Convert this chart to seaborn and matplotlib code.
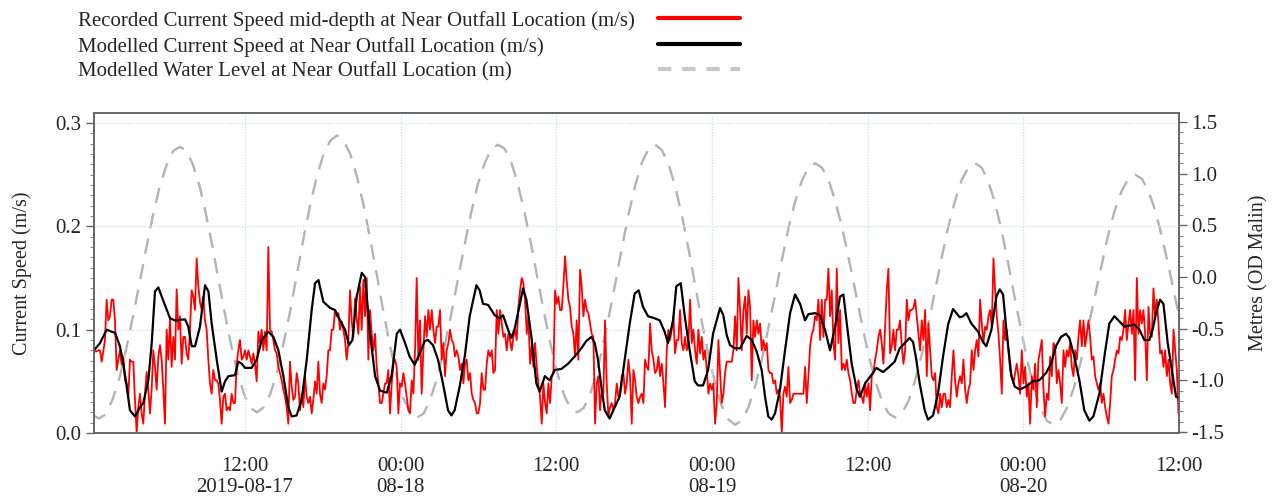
import numpy as np
import pandas as pd
import matplotlib
matplotlib.use("Agg")
import matplotlib.pyplot as plt
import matplotlib.dates as mdates
from matplotlib.ticker import MultipleLocator, FormatStrFormatter
from matplotlib.lines import Line2D
import seaborn as sns

# ---------------- data ----------------
START = pd.Timestamp("2019-08-17 00:00")

# Recorded current speed (m/s), regular samples, one list per half day
red_step_hours = 0.1285
red_segment_start_hours = [0.306, 12.000, 23.951, 35.901, 47.852, 59.802, 71.753]
red_seg1 = [0.080, 0.079, 0.079, 0.080, 0.080, 0.069, 0.079, 0.090, 0.129, 0.109,
            0.113, 0.129, 0.129, 0.109, 0.061, 0.071, 0.080, 0.066, 0.074, 0.051,
            0.048, 0.035, 0.071, 0.069, 0.069, 0.032, 0.000, 0.025, 0.038, 0.019,
            0.009, 0.038, 0.059, 0.042, 0.019, 0.042, 0.080, 0.064, 0.042, 0.074,
            0.085, 0.071, 0.042, 0.009, 0.100, 0.071, 0.111, 0.064, 0.093, 0.071,
            0.139, 0.100, 0.113, 0.067, 0.093, 0.093, 0.077, 0.071, 0.100, 0.138,
            0.132, 0.119, 0.169, 0.142, 0.127, 0.119, 0.132, 0.109, 0.100, 0.071,
            0.048, 0.038, 0.061, 0.051, 0.051, 0.048, 0.032, 0.009, 0.035, 0.038,
            0.022, 0.025, 0.022, 0.038, 0.029, 0.029, 0.067, 0.080, 0.090, 0.071,
            0.074]
red_seg2 = [0.080, 0.071, 0.080, 0.074, 0.067, 0.077, 0.067, 0.050, 0.098, 0.087,
            0.100, 0.080, 0.098, 0.080, 0.180, 0.100, 0.098, 0.090, 0.080, 0.077,
            0.064, 0.058, 0.051, 0.042, 0.035, 0.025, 0.009, 0.069, 0.045, 0.032,
            0.035, 0.058, 0.048, 0.022, 0.038, 0.025, 0.055, 0.035, 0.029, 0.035,
            0.019, 0.032, 0.050, 0.038, 0.069, 0.038, 0.029, 0.048, 0.042, 0.055,
            0.080, 0.080, 0.100, 0.100, 0.119, 0.113, 0.116, 0.100, 0.108, 0.100,
            0.090, 0.071, 0.087, 0.138, 0.109, 0.093, 0.130, 0.111, 0.096, 0.142,
            0.100, 0.148, 0.113, 0.150, 0.071, 0.119, 0.096, 0.080, 0.096, 0.064,
            0.048, 0.029, 0.029, 0.038, 0.048, 0.048, 0.061, 0.019, 0.048, 0.067,
            0.071, 0.064, 0.019]
red_seg3 = [0.048, 0.045, 0.058, 0.048, 0.035, 0.022, 0.019, 0.051, 0.038, 0.080,
            0.150, 0.071, 0.109, 0.038, 0.080, 0.113, 0.093, 0.119, 0.100, 0.119,
            0.100, 0.087, 0.103, 0.103, 0.119, 0.071, 0.087, 0.055, 0.080, 0.087,
            0.100, 0.090, 0.087, 0.074, 0.080, 0.074, 0.061, 0.067, 0.048, 0.067,
            0.071, 0.051, 0.058, 0.038, 0.032, 0.029, 0.019, 0.019, 0.029, 0.058,
            0.042, 0.042, 0.067, 0.080, 0.074, 0.080, 0.058, 0.061, 0.119, 0.096,
            0.119, 0.106, 0.093, 0.096, 0.080, 0.096, 0.090, 0.080, 0.093, 0.100,
            0.090, 0.122, 0.138, 0.150, 0.145, 0.129, 0.096, 0.113, 0.067, 0.084,
            0.064, 0.087, 0.064, 0.048, 0.035, 0.009, 0.048, 0.029, 0.019, 0.048,
            0.029, 0.055, 0.058]
red_seg4 = [0.138, 0.125, 0.132, 0.119, 0.119, 0.142, 0.171, 0.148, 0.129, 0.122,
            0.103, 0.096, 0.074, 0.109, 0.071, 0.158, 0.142, 0.113, 0.129, 0.119,
            0.116, 0.106, 0.096, 0.093, 0.009, 0.048, 0.055, 0.022, 0.042, 0.038,
            0.109, 0.048, 0.016, 0.025, 0.029, 0.022, 0.029, 0.048, 0.035, 0.038,
            0.055, 0.058, 0.038, 0.048, 0.071, 0.055, 0.009, 0.061, 0.051, 0.035,
            0.029, 0.035, 0.038, 0.029, 0.071, 0.064, 0.061, 0.106, 0.080, 0.071,
            0.058, 0.061, 0.074, 0.055, 0.067, 0.048, 0.025, 0.080, 0.100, 0.090,
            0.100, 0.113, 0.077, 0.090, 0.090, 0.119, 0.087, 0.080, 0.093, 0.080,
            0.087, 0.129, 0.087, 0.100, 0.080, 0.067, 0.100, 0.077, 0.093, 0.071,
            0.080, 0.061, 0.038]
red_seg5 = [0.048, 0.042, 0.048, 0.009, 0.029, 0.090, 0.058, 0.029, 0.038, 0.058,
            0.069, 0.069, 0.069, 0.069, 0.080, 0.113, 0.080, 0.150, 0.119, 0.080,
            0.119, 0.132, 0.096, 0.138, 0.122, 0.051, 0.109, 0.093, 0.109, 0.096,
            0.106, 0.080, 0.090, 0.080, 0.087, 0.061, 0.058, 0.058, 0.048, 0.051,
            0.038, 0.042, 0.035, 0.000, 0.038, 0.045, 0.035, 0.064, 0.029, 0.032,
            0.038, 0.038, 0.038, 0.038, 0.038, 0.038, 0.038, 0.064, 0.029, 0.055,
            0.084, 0.096, 0.100, 0.113, 0.109, 0.129, 0.090, 0.129, 0.093, 0.129,
            0.129, 0.159, 0.113, 0.138, 0.087, 0.071, 0.159, 0.087, 0.119, 0.061,
            0.067, 0.061, 0.071, 0.058, 0.051, 0.038, 0.029, 0.029, 0.042, 0.051,
            0.038, 0.035, 0.029]
red_seg6 = [0.048, 0.035, 0.048, 0.022, 0.055, 0.058, 0.071, 0.080, 0.093, 0.100,
            0.087, 0.067, 0.103, 0.138, 0.159, 0.077, 0.084, 0.100, 0.080, 0.100,
            0.100, 0.109, 0.084, 0.067, 0.080, 0.129, 0.109, 0.119, 0.119, 0.121,
            0.129, 0.113, 0.096, 0.080, 0.109, 0.090, 0.119, 0.055, 0.106, 0.080,
            0.055, 0.051, 0.058, 0.025, 0.019, 0.038, 0.025, 0.038, 0.038, 0.025,
            0.032, 0.025, 0.055, 0.080, 0.051, 0.035, 0.048, 0.055, 0.048, 0.071,
            0.042, 0.029, 0.042, 0.048, 0.080, 0.061, 0.080, 0.090, 0.074, 0.129,
            0.106, 0.087, 0.103, 0.100, 0.113, 0.119, 0.103, 0.169, 0.138, 0.113,
            0.096, 0.071, 0.038, 0.109, 0.090, 0.100, 0.080, 0.061, 0.055, 0.048,
            0.058, 0.067, 0.055]
red_seg7 = [0.038, 0.080, 0.048, 0.064, 0.035, 0.048, 0.009, 0.055, 0.042, 0.067,
            0.025, 0.071, 0.080, 0.090, 0.042, 0.016, 0.038, 0.032, 0.074, 0.055,
            0.087, 0.084, 0.048, 0.061, 0.048, 0.029, 0.080, 0.064, 0.080, 0.074,
            0.087, 0.064, 0.055, 0.080, 0.071, 0.093, 0.109, 0.084, 0.109, 0.084,
            0.096, 0.109, 0.093, 0.071, 0.074, 0.055, 0.048, 0.042, 0.048, 0.029,
            0.038, 0.025, 0.016, 0.009, 0.029, 0.055, 0.061, 0.071, 0.080, 0.077,
            0.093, 0.090, 0.100, 0.119, 0.090, 0.106, 0.119, 0.096, 0.119, 0.051,
            0.150, 0.096, 0.119, 0.106, 0.119, 0.096, 0.051, 0.122, 0.096, 0.093,
            0.140, 0.113, 0.129, 0.106, 0.077, 0.080, 0.064, 0.080, 0.055, 0.071,
            0.048, 0.038, 0.100, 0.080, 0.061, 0.019]

# Modelled current speed (m/s)
model_hours = [
    0.36, 0.82, 1.34, 1.72, 1.98, 2.36, 2.62, 2.88, 3.13, 3.52, 3.91, 4.16, 4.55, 4.81,
    5.06, 5.32, 5.58, 6.22, 6.61, 7.38, 7.63, 7.89, 8.15, 8.53, 8.92, 9.18, 9.43, 9.82,
    10.20, 10.46, 10.72, 11.23, 11.49, 11.75,
    12.00, 12.51, 12.90, 13.29, 13.80, 14.19, 14.57, 14.96, 15.34, 15.60, 15.98, 16.37,
    16.76, 17.14, 17.40, 17.66, 18.04, 18.56, 18.94, 19.33, 19.71, 20.02, 20.28, 20.61,
    21.00, 21.25, 21.64, 22.03, 22.41, 22.93, 23.31, 23.70, 23.95,
    24.31, 24.69, 25.08, 25.47, 25.85, 26.11, 26.49, 26.88, 27.26, 27.65, 27.91, 28.16,
    28.55, 28.94, 29.32, 29.84, 30.09, 30.35, 30.74, 31.25, 31.63, 31.89, 32.28, 32.53,
    32.79, 33.18, 33.43, 33.69, 34.08, 34.46, 34.72, 35.11, 35.49, 35.88,
    36.39, 36.90, 37.41, 37.93, 38.31, 38.70, 38.96, 39.21, 39.47, 39.73, 40.11, 40.50,
    40.88, 41.27, 41.66, 42.04, 42.35, 42.68, 43.07, 43.58, 43.97, 44.35, 44.61, 45.00,
    45.25, 45.59, 45.90, 46.28, 46.67, 46.93, 47.31, 47.70, 48.08,
    48.23, 48.62, 48.87, 49.13, 49.39, 49.77, 50.16, 50.42, 50.67, 51.06, 51.44, 51.83,
    52.09, 52.34, 52.60, 52.86, 53.24, 53.63, 54.02, 54.40, 54.79, 55.17, 55.43, 55.94,
    56.33, 56.71, 57.10, 57.49, 57.87, 58.13, 58.39, 58.77, 59.16, 59.41, 59.80,
    60.28, 60.67, 61.18, 61.57, 62.08, 62.47, 62.85, 63.24, 63.50, 63.75, 64.01, 64.40,
    64.65, 65.04, 65.42, 65.81, 66.20, 66.58, 67.10, 67.35, 67.61, 67.99, 68.51, 68.89,
    69.15, 69.54, 69.92, 70.18, 70.44, 70.69, 71.08, 71.34, 71.72,
    72.21, 72.72, 73.23, 73.75, 74.13, 74.52, 74.90, 75.29, 75.55, 75.93, 76.32, 76.70,
    77.09, 77.40, 77.86, 78.25, 78.63, 79.02, 79.40, 79.79, 80.17, 80.56, 80.95, 81.33,
    81.72, 81.97, 82.23, 82.54, 82.80, 83.13, 83.52, 83.77, 84.00]
model_speed = [
    0.080, 0.087, 0.100, 0.098, 0.097, 0.084, 0.067, 0.045, 0.022, 0.016, 0.025, 0.029,
    0.051, 0.087, 0.137, 0.141, 0.132, 0.111, 0.109, 0.110, 0.103, 0.084, 0.084, 0.103,
    0.143, 0.137, 0.106, 0.071, 0.040, 0.050, 0.055, 0.056, 0.069, 0.067,
    0.063, 0.063, 0.071, 0.090, 0.098, 0.093, 0.080, 0.055, 0.025, 0.016, 0.017, 0.032,
    0.071, 0.119, 0.145, 0.148, 0.127, 0.121, 0.119, 0.109, 0.100, 0.085, 0.090, 0.132,
    0.155, 0.151, 0.096, 0.055, 0.041, 0.039, 0.056, 0.096, 0.100,
    0.088, 0.074, 0.066, 0.077, 0.089, 0.090, 0.085, 0.071, 0.048, 0.022, 0.017, 0.022,
    0.045, 0.074, 0.113, 0.143, 0.138, 0.125, 0.124, 0.114, 0.111, 0.114, 0.100, 0.092,
    0.101, 0.124, 0.140, 0.129, 0.093, 0.048, 0.040, 0.055, 0.051, 0.061,
    0.062, 0.067, 0.074, 0.082, 0.089, 0.093, 0.087, 0.071, 0.045, 0.022, 0.014, 0.025,
    0.035, 0.071, 0.106, 0.135, 0.138, 0.122, 0.113, 0.111, 0.109, 0.098, 0.087, 0.109,
    0.142, 0.145, 0.113, 0.080, 0.050, 0.046, 0.046, 0.061, 0.096,
    0.103, 0.121, 0.114, 0.095, 0.085, 0.082, 0.082, 0.088, 0.094, 0.090, 0.079, 0.061,
    0.035, 0.016, 0.013, 0.019, 0.042, 0.080, 0.116, 0.134, 0.125, 0.109, 0.115, 0.116,
    0.114, 0.100, 0.080, 0.103, 0.132, 0.134, 0.106, 0.067, 0.042, 0.035, 0.048,
    0.056, 0.063, 0.059, 0.063, 0.069, 0.082, 0.087, 0.092, 0.088, 0.071, 0.048, 0.022,
    0.013, 0.017, 0.038, 0.074, 0.105, 0.120, 0.112, 0.113, 0.116, 0.106, 0.098, 0.088,
    0.084, 0.100, 0.132, 0.139, 0.134, 0.100, 0.055, 0.045, 0.042,
    0.045, 0.050, 0.051, 0.058, 0.067, 0.084, 0.093, 0.096, 0.092, 0.074, 0.051, 0.022,
    0.012, 0.016, 0.038, 0.074, 0.106, 0.113, 0.108, 0.103, 0.104, 0.105, 0.100, 0.090,
    0.090, 0.100, 0.116, 0.129, 0.125, 0.087, 0.055, 0.035, 0.034]

# Modelled water level (m OD Malin)
tide_hours = [
    0.22, 0.74, 1.26, 1.78, 2.30, 2.82, 3.35, 3.87, 4.39, 4.91, 5.43, 5.95, 6.47, 6.99,
    7.49, 7.98, 8.48, 8.97, 9.47, 9.96, 10.46, 10.95, 11.45, 11.94, 12.44, 12.93,
    13.44, 13.96, 14.47, 14.98, 15.50, 16.01, 16.52, 17.03, 17.55, 18.06, 18.58, 19.09,
    19.60, 20.12, 20.63, 21.15, 21.66, 22.18, 22.69, 23.20, 23.72, 24.23, 24.75, 25.26,
    25.78, 26.30, 26.82, 27.34, 27.86, 28.39, 28.91, 29.43, 29.95, 30.47, 30.99, 31.51,
    32.02, 32.53, 33.03, 33.54, 34.05, 34.56, 35.06, 35.57, 36.08, 36.59, 37.09, 37.60,
    38.10, 38.60, 39.10, 39.60, 40.10, 40.61, 41.11, 41.61, 42.11, 42.61, 43.11, 43.61,
    44.12, 44.64, 45.15, 45.67, 46.18, 46.70, 47.21, 47.72, 48.24, 48.75, 49.27, 49.78,
    50.29, 50.81, 51.32, 51.84, 52.35, 52.87, 53.38, 53.89, 54.41, 54.92, 55.44, 55.95,
    56.46, 56.98, 57.49, 58.01, 58.52, 59.04, 59.55, 60.06, 60.58, 61.09, 61.61, 62.12,
    62.63, 63.15, 63.66, 64.17, 64.69, 65.20, 65.71, 66.22, 66.74, 67.25, 67.77, 68.28,
    68.78, 69.28, 69.79, 70.29, 70.79, 71.29, 71.79, 72.29, 72.80, 73.30, 73.80, 74.30,
    74.83, 75.35, 75.88, 76.41, 76.93, 77.46, 77.99, 78.51, 79.04, 79.57, 80.09, 80.62,
    81.14, 81.65, 82.17, 82.68, 83.20, 83.72, 84.23]
tide_level = [
    -1.33, -1.37, -1.33, -1.19, -0.99, -0.71, -0.39, -0.06, 0.28, 0.60, 0.88, 1.08, 1.22, 1.26,
    1.22, 1.09, 0.89, 0.62, 0.31, -0.03, -0.36, -0.67, -0.94, -1.14, -1.27, -1.31,
    -1.26, -1.13, -0.92, -0.64, -0.32, 0.03, 0.38, 0.70, 0.98, 1.19, 1.32, 1.37,
    1.32, 1.19, 0.97, 0.69, 0.36, 0.01, -0.35, -0.68, -0.96, -1.18, -1.31, -1.36,
    -1.32, -1.18, -0.97, -0.70, -0.38, -0.04, 0.30, 0.62, 0.90, 1.10, 1.24, 1.28,
    1.24, 1.11, 0.90, 0.63, 0.32, -0.02, -0.35, -0.66, -0.93, -1.14, -1.27, -1.31,
    -1.27, -1.14, -0.93, -0.66, -0.35, -0.02, 0.32, 0.63, 0.90, 1.11, 1.24, 1.28,
    1.23, 1.10, 0.88, 0.60, 0.28, -0.08, -0.43, -0.75, -1.03, -1.25, -1.38, -1.43,
    -1.39, -1.26, -1.06, -0.80, -0.49, -0.17, 0.16, 0.47, 0.73, 0.93, 1.06, 1.10,
    1.06, 0.94, 0.74, 0.49, 0.19, -0.13, -0.45, -0.75, -1.00, -1.20, -1.32, -1.36,
    -1.32, -1.20, -1.00, -0.75, -0.45, -0.13, 0.19, 0.49, 0.74, 0.94, 1.06, 1.10,
    1.06, 0.93, 0.73, 0.47, 0.16, -0.17, -0.49, -0.80, -1.06, -1.26, -1.39, -1.43,
    -1.39, -1.27, -1.08, -0.83, -0.53, -0.22, 0.09, 0.39, 0.64, 0.83, 0.95, 0.99,
    0.95, 0.83, 0.64, 0.39, 0.10, -0.21, -0.51]

x_tick_hours = [12, 24, 36, 48, 60, 72, 84]
x_tick_labels = ["12:00\n2019-08-17", "00:00\n08-18", "12:00", "00:00\n08-19",
                 "12:00", "00:00\n08-20", "12:00"]
left_ticks = [0.0, 0.1, 0.2, 0.3]
right_ticks = [-1.5, -1.0, -0.5, 0.0, 0.5, 1.0, 1.5]

labels = ["Recorded Current Speed mid-depth at Near Outfall Location (m/s)",
          "Modelled Current Speed at Near Outfall Location (m/s)",
          "Modelled Water Level at Near Outfall Location (m)"]
colors = ["#ff0000", "#000000", "#c8c8c8"]

# ---------------- build frames ----------------
red_segments = [red_seg1, red_seg2, red_seg3, red_seg4, red_seg5, red_seg6, red_seg7]
red_h, red_v = [], []
for s0, seg in zip(red_segment_start_hours, red_segments):
    for i, v in enumerate(seg):
        red_h.append(s0 + i * red_step_hours)
        red_v.append(v)

def to_time(hours):
    return START + pd.to_timedelta(np.asarray(hours, dtype=float), unit="h")

red_df = pd.DataFrame({"time": to_time(red_h), "speed": red_v})
model_df = pd.DataFrame({"time": to_time(model_hours), "speed": model_speed})
tide_df = pd.DataFrame({"time": to_time(tide_hours), "level": tide_level})

# ---------------- style ----------------
sns.set_style("white")
plt.rcParams['font.family'] = ['Liberation Serif', 'DejaVu Serif']
plt.rcParams['axes.unicode_minus'] = False

FS = 15
W, H = 1277, 498
fig = plt.figure(figsize=(W / 100, H / 100), dpi=100)
ax = fig.add_axes([94 / W, 1 - 433 / H, (1179 - 94) / W, (433 - 113) / H])
ax2 = ax.twinx()

sns.lineplot(data=tide_df, x="time", y="level", ax=ax2, color="#b3b3b3",
             linewidth=1.7, estimator=None, sort=False, legend=False)
ax2.lines[-1].set_dashes((6.5, 4.5))

sns.lineplot(data=red_df, x="time", y="speed", ax=ax, color=colors[0],
             linewidth=1.3, estimator=None, sort=False, legend=False)
sns.lineplot(data=model_df, x="time", y="speed", ax=ax, color=colors[1],
             linewidth=1.6, estimator=None, sort=False, legend=False)

ax.set_zorder(ax2.get_zorder() + 1)
ax.patch.set_visible(False)

# x axis
ax.set_xlim(START + pd.Timedelta(hours=0.36), START + pd.Timedelta(hours=84))
ax.set_xticks(list(to_time(x_tick_hours)))
ax.set_xticklabels(x_tick_labels)
ax.xaxis.set_minor_locator(mdates.HourLocator())

# y axes
ax.set_ylim(0, 0.3097)
ax.set_yticks(left_ticks)
ax.yaxis.set_major_formatter(FormatStrFormatter('%.1f'))
ax.yaxis.set_minor_locator(MultipleLocator(0.01))
ax2.set_ylim(-1.51, 1.587)
ax2.set_yticks(right_ticks)
ax2.yaxis.set_major_formatter(FormatStrFormatter('%.1f'))
ax2.yaxis.set_minor_locator(MultipleLocator(0.1))

ax.set_xlabel("")
ax.set_ylabel("Current Speed (m/s)", fontsize=14.5, labelpad=17)
ax2.set_ylabel("Metres (OD Malin)", fontsize=14.5, labelpad=18)

for a in (ax, ax2):
    a.tick_params(which="major", direction="out", length=6, width=1,
                  color="#666666", labelsize=FS, pad=3)
    a.tick_params(which="minor", direction="out", length=3, width=0.8,
                  color="#888888")
    for sp in a.spines.values():
        sp.set_color("#666666")
        sp.set_linewidth(1.2)
ax.tick_params(axis="x", which="major", pad=11)

ax.grid(which="major", color="#cde3f7", linestyle=(0, (1, 1)), linewidth=1.0)
ax.set_axisbelow(True)

# legend (label text left-aligned, line samples in a column on the right)
legend_rows_y = [21, 47, 72]
for lab, col, yy, dashed in zip(labels, colors, legend_rows_y, [False, False, True]):
    fig.text(78 / W, 1 - yy / H, lab, fontsize=FS, ha="left", va="center")
    ln = Line2D([658 / W, 740 / W], [1 - (yy - 3) / H, 1 - (yy - 3) / H],
                transform=fig.transFigure, color=col, linewidth=3)
    if dashed:
        ln.set_dashes((3.2, 2.6))
    fig.add_artist(ln)

fig.savefig("out.png", dpi=100)
